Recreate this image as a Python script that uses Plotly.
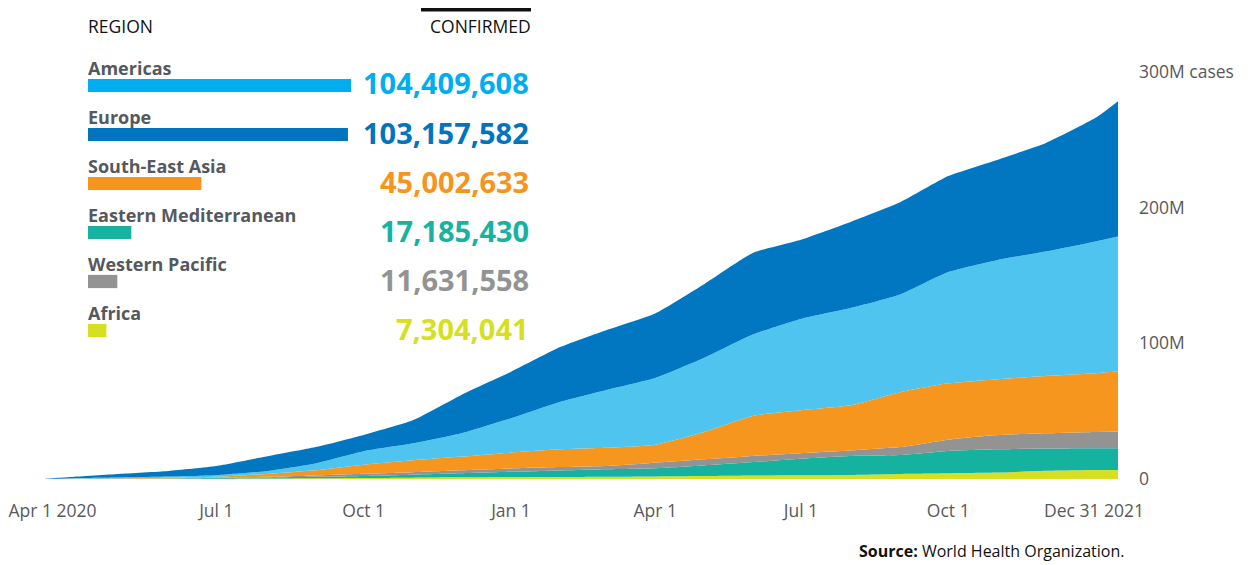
import plotly.graph_objects as go

# ---------------- data (cumulative confirmed cases, millions) ----------------
dates = ["2020-03-16", "2020-04-01", "2020-05-01", "2020-06-01", "2020-07-01", "2020-08-01",
         "2020-09-01", "2020-10-01", "2020-11-01", "2020-12-01", "2021-01-01", "2021-02-01",
         "2021-03-01", "2021-04-01", "2021-05-01", "2021-06-01", "2021-07-01", "2021-08-01",
         "2021-09-01", "2021-10-01", "2021-11-01", "2021-12-01", "2022-01-01", "2022-01-15"]

africa = [0.0, 0.02, 0.05, 0.1, 0.2, 0.4, 0.6, 0.8, 1.0, 1.2, 1.4, 1.5,
          1.7, 1.9, 2.2, 2.6, 2.8, 3.0, 3.7, 4.2, 4.7, 6.0, 6.6, 6.6]
eastern_med = [0.01, 0.06, 0.15, 0.3, 0.5, 0.7, 1.0, 1.5, 2.2, 3.0, 3.9, 4.8,
               5.5, 6.1, 7.8, 9.9, 12.2, 14.0, 14.0, 16.5, 17.2, 16.4, 16.0, 16.0]
western_pac = [0.02, 0.07, 0.1, 0.2, 0.3, 0.5, 1.0, 1.5, 1.8, 2.2, 2.5, 2.5,
               2.4, 4.0, 4.5, 4.5, 4.0, 4.0, 5.8, 8.3, 10.5, 11.3, 12.1, 12.4]
se_asia = [0.01, 0.05, 0.2, 0.3, 0.6, 2.1, 3.8, 6.7, 8.8, 10.1, 11.7, 13.1,
           13.4, 13.3, 20.0, 29.5, 31.6, 33.3, 40.5, 41.5, 41.2, 42.3, 43.3, 44.2]
americas = [0.04, 0.4, 0.6, 0.9, 1.2, 2.1, 5.1, 10.0, 12.5, 17.2, 25.3, 35.1,
            42.5, 49.2, 54.5, 60.0, 67.4, 71.7, 72.0, 82.0, 87.9, 91.7, 97.1, 99.6]
europe = [0.12, 0.9, 2.6, 4.1, 6.7, 10.7, 12.0, 12.0, 17.2, 28.3, 34.2, 40.4,
          44.0, 47.5, 54.2, 60.1, 58.4, 63.5, 68.0, 70.8, 73.9, 80.0, 91.1, 99.7]

regions = ["Americas", "Europe", "South-East Asia", "Eastern Mediterranean", "Western Pacific", "Africa"]
confirmed = [104409608, 103157582, 45002633, 17185430, 11631558, 7304041]

tick_dates = ["2020-04-01", "2020-07-01", "2020-10-01", "2021-01-01", "2021-04-01",
              "2021-07-01", "2021-10-01", "2021-12-31"]
tick_labels = ["Apr 1 2020" + "\u00a0" * 8, "Jul 1", "Oct 1", "Jan 1", "Apr 1", "Jul 1", "Oct 1", "Dec 31 2021"]
y_ticks = [0, 100e6, 200e6, 300e6]
y_labels = ["0", "100M", "200M", "300M cases"]

# ---------------- styles ----------------
legend_colors = ["#00aeef", "#0075be", "#f7941d", "#17b3a0", "#939393", "#d7df23"]
area_series = [
    ("Africa", africa, "#d7df23"),
    ("Eastern Mediterranean", eastern_med, "#15b39f"),
    ("Western Pacific", western_pac, "#939393"),
    ("South-East Asia", se_asia, "#f7961f"),
    ("Americas", americas, "#4fc4ef"),
    ("Europe", europe, "#0077c0"),
]

OFF = 8                      # page body margin
W, H = 1253 - OFF, 565 - OFF
PX0, PX1, PY0, PY1 = 45, 1118, 72, 479   # plot area in page pixels
L, R, T, B = PX0 - OFF, W - (PX1 - OFF), PY0 - OFF, H - (PY1 - OFF)
PW, PH = PX1 - PX0, PY1 - PY0


def px(x):
    return (x - PX0) / PW


def py(y):
    return (PY1 - y) / PH


fig = go.Figure()
for name, vals, col in area_series:
    fig.add_trace(go.Scatter(
        x=dates, y=[v * 1e6 for v in vals], name=name, stackgroup="one",
        mode="lines", line=dict(width=0, shape="spline", smoothing=0.5),
        fillcolor=col, hoverinfo="skip", showlegend=False))

# legend-table bars (scaled by confirmed value)
ROW0, PITCH = 85.5, 49
BAR_X0 = 88
fig.add_trace(go.Bar(
    x=confirmed, y=regions, orientation="h", xaxis="x2", yaxis="y2",
    marker=dict(color=legend_colors, line=dict(width=0)), width=0.27,
    showlegend=False, hoverinfo="skip"))

font = "Open Sans"
ann = []
for i, (reg, val, col) in enumerate(zip(regions, confirmed, legend_colors)):
    cy = ROW0 + PITCH * i
    ann.append(dict(xref="paper", yref="paper", x=px(86), y=py(cy - 18), text=f"<b>{reg}</b>",
                    xanchor="left", yanchor="middle", showarrow=False,
                    font=dict(family=font, size=18, color="#55595e")))
    ann.append(dict(xref="paper", yref="paper", x=px(531), y=py(cy - 2.5), text=f"<b>{val:,}</b>",
                    xanchor="right", yanchor="middle", showarrow=False,
                    font=dict(family=font, size=29, color=col)))
ann.append(dict(xref="paper", yref="paper", x=px(86), y=py(26), text="REGION",
                xanchor="left", yanchor="middle", showarrow=False,
                font=dict(family=font, size=17.5, color="#111111")))
ann.append(dict(xref="paper", yref="paper", x=px(533), y=py(26), text="CONFIRMED",
                xanchor="right", yanchor="middle", showarrow=False,
                font=dict(family=font, size=17.5, color="#111111")))
ann.append(dict(xref="paper", yref="paper", x=px(1126), y=py(551),
                text="<b>Source:</b> World Health Organization.",
                xanchor="right", yanchor="middle", showarrow=False,
                font=dict(family=font, size=16, color="#111111")))

fig.update_layout(
    width=W, height=H, margin=dict(l=L, r=R, t=T, b=B, autoexpand=False),
    paper_bgcolor="white", plot_bgcolor="rgba(0,0,0,0)",
    font=dict(family=font, color="#58595b"),
    annotations=ann,
    shapes=[dict(type="line", xref="paper", yref="paper", x0=px(421), x1=px(531),
                 y0=py(9.7), y1=py(9.7), line=dict(color="#111111", width=3.4))],
    xaxis=dict(type="date", range=["2020-03-16", "2022-01-15"], showgrid=False, zeroline=False,
               showline=False, tickvals=tick_dates, ticktext=tick_labels, ticks="",
               ticklabelstandoff=19, ticklabeloverflow="allow", automargin=False,
               tickfont=dict(size=17.5, color="#58595b")),
    yaxis=dict(range=[0, 300e6], side="right", showgrid=False, zeroline=False, showline=False,
               tickvals=y_ticks, ticktext=y_labels, ticks="", ticklabelstandoff=20,
               automargin=False, tickfont=dict(size=17.5, color="#58595b")),
    xaxis2=dict(domain=[px(BAR_X0), px(BAR_X0) + 120 * 2.52 / PW], range=[0, 120e6], anchor="y2",
                visible=False, fixedrange=True, automargin=False),
    yaxis2=dict(domain=[py(ROW0 + PITCH * 5.5), 1.0], type="category", categoryorder="array",
                categoryarray=regions, range=[5.5, -(ROW0 - PY0) / PITCH], anchor="x2",
                visible=False, fixedrange=True, automargin=False),
)

fig.write_html("out.html")
